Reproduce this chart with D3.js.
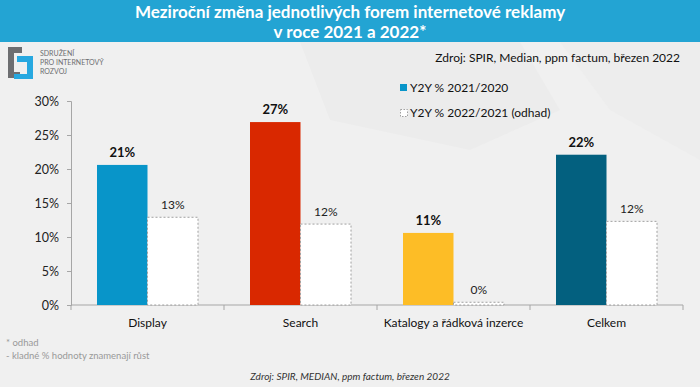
<!DOCTYPE html>
<html>
<head>
<meta charset="utf-8">
<script src="https://cdn.jsdelivr.net/npm/d3@7"></script>
<style>
  body { margin: 0; background: #f0f0f0; }
  svg { display: block; font-family: Lato, 'Open Sans', sans-serif; }
</style>
</head>
<body>
<script>
(function(){

// DATA

    const categories = ['Display', 'Search', 'Katalogy a řádková inzerce', 'Celkem'];
    const series1 = [20.6, 26.9, 10.6, 22.1];
    const series2 = [12.9, 11.9, 0.4, 12.3];
    const labels1 = ['21%', '27%', '11%', '22%'];
    const labels2 = ['13%', '12%', '0%', '12%'];
    const barColors = ['#0895c9', '#d92800', '#fdbd26', '#03607f'];
    const yTicks = [0, 5, 10, 15, 20, 25, 30];
    const legendLabels = ['Y2Y % 2021/2020', 'Y2Y % 2022/2021 (odhad)'];

    const width = 700,
        height = 387,
        plotLeft = 71,
        plotRight = 683,
        plotTop = 101,
        plotBottom = 305;

    const svg = d3
        .select('body')
        .append('svg')
        .attr('width', width)
        .attr('height', height);

// BACKGROUND

    svg.append('rect')
        .attr('width', width)
        .attr('height', height)
        .attr('fill', '#f0f0f0');

    // faint background shapes
    svg.append('path')
        .attr('d', 'M300,42 L520,42 L560,110 L470,150 L330,120 Z')
        .attr('fill', '#ececec');
    svg.append('path')
        .attr('d', 'M560,42 L700,42 L700,160 L610,110 Z')
        .attr('fill', '#ededed');

// TITLE BAR

    svg.append('rect')
        .attr('width', width)
        .attr('height', 42)
        .attr('fill', '#23a4d3');

    svg.append('text')
        .attr('x', width / 2)
        .attr('y', 18)
        .attr('text-anchor', 'middle')
        .attr('fill', '#fff')
        .attr('font-weight', 'bold')
        .attr('font-size', 17)
        .text('Meziroční změna jednotlivých forem internetové reklamy');

    svg.append('text')
        .attr('x', width / 2)
        .attr('y', 38)
        .attr('text-anchor', 'middle')
        .attr('fill', '#fff')
        .attr('font-weight', 'bold')
        .attr('font-size', 17)
        .text('v roce 2021 a 2022*');

// LOGO

    const logo = svg.append('g').attr('transform', 'translate(8,47)');
    // grey bracket
    logo.append('path')
        .attr('d', 'M0,0 H14 V6 H6 V25 H12 V31 H0 Z')
        .attr('fill', '#6d6e71');
    // blue bracket
    logo.append('path')
        .attr('d', 'M9,9 H25 V32 H6 V27 H19 V15 H9 Z')
        .attr('fill', '#27a8e0');
    ['SDRUŽENÍ', 'PRO INTERNETOVÝ', 'ROZVOJ'].forEach(function(t, i){
        logo.append('text')
            .attr('x', 32)
            .attr('y', 9 + i * 9)
            .attr('font-size', 7)
            .attr('fill', '#6d6e71')
            .text(t);
    });

    svg.append('text')
        .attr('x', 680)
        .attr('y', 62)
        .attr('text-anchor', 'end')
        .attr('font-size', 12)
        .attr('fill', '#111')
        .text('Zdroj: SPIR, Median, ppm factum, březen 2022');

// SCALES

    const x0 = d3.scaleBand()
        .domain(categories)
        .range([plotLeft, plotRight])
        .paddingInner(0)
        .paddingOuter(0);

    const x1 = d3.scaleBand()
        .domain([0, 1])
        .range([26, x0.bandwidth() - 26]);

    const y = d3.scaleLinear()
        .domain([0, 30])
        .range([plotBottom, plotTop]);

// AXES

    const yAxis = svg.append('g')
        .attr('transform', 'translate(' + plotLeft + ',0)')
        .call(d3.axisLeft(y)
            .tickValues(yTicks)
            .tickSize(4)
            .tickPadding(8)
            .tickFormat(function(d){ return d + '%'; }));
    yAxis.selectAll('line, path').attr('stroke', '#a6a6a6');
    yAxis.selectAll('text')
        .attr('font-size', 12.5)
        .attr('fill', '#222')
        .attr('font-family', 'Lato, sans-serif');

    const xAxis = svg.append('g')
        .attr('transform', 'translate(0,' + plotBottom + ')');
    xAxis.append('line')
        .attr('x1', plotLeft)
        .attr('x2', plotRight)
        .attr('stroke', '#a6a6a6');
    xAxis.selectAll('.tick')
        .data(categories.concat(['end']))
        .enter()
        .append('line')
        .attr('x1', function(d, i){ return plotLeft + i * x0.bandwidth(); })
        .attr('x2', function(d, i){ return plotLeft + i * x0.bandwidth(); })
        .attr('y1', 0)
        .attr('y2', 5)
        .attr('stroke', '#a6a6a6');
    xAxis.selectAll('.catLabel')
        .data(categories)
        .enter()
        .append('text')
        .attr('class', 'catLabel')
        .attr('x', function(d){ return x0(d) + x0.bandwidth() / 2; })
        .attr('y', 22)
        .attr('text-anchor', 'middle')
        .attr('font-size', 12)
        .attr('fill', '#111')
        .text(function(d){ return d; });

// BARS

    const groups = svg.selectAll('.group')
        .data(categories)
        .enter()
        .append('g')
        .attr('class', 'group')
        .attr('transform', function(d){ return 'translate(' + x0(d) + ',0)'; });

    groups.append('rect')
        .attr('x', x1(0))
        .attr('width', x1.bandwidth())
        .attr('y', function(d, i){ return y(series1[i]); })
        .attr('height', function(d, i){ return y(0) - y(series1[i]); })
        .attr('fill', function(d, i){ return barColors[i]; });

    groups.append('rect')
        .attr('x', x1(1))
        .attr('width', x1.bandwidth())
        .attr('y', function(d, i){ return y(series2[i]); })
        .attr('height', function(d, i){ return y(0) - y(series2[i]); })
        .attr('fill', '#fff')
        .attr('stroke', '#a0a0a0')
        .attr('stroke-dasharray', '2,2');

    groups.append('text')
        .attr('x', x1(0) + x1.bandwidth() / 2)
        .attr('y', function(d, i){ return y(series1[i]) - 8; })
        .attr('text-anchor', 'middle')
        .attr('font-size', 13)
        .attr('font-weight', 'bold')
        .attr('fill', '#111')
        .text(function(d, i){ return labels1[i]; });

    groups.append('text')
        .attr('x', x1(1) + x1.bandwidth() / 2)
        .attr('y', function(d, i){ return y(series2[i]) - 8; })
        .attr('text-anchor', 'middle')
        .attr('font-size', 12)
        .attr('fill', '#222')
        .text(function(d, i){ return labels2[i]; });

// LEGEND

    const legend = svg.append('g').attr('transform', 'translate(400,0)');
    legend.append('rect')
        .attr('x', 0).attr('y', 84)
        .attr('width', 7).attr('height', 7)
        .attr('fill', barColors[0]);
    legend.append('rect')
        .attr('x', 0.5).attr('y', 109.5)
        .attr('width', 7).attr('height', 7)
        .attr('fill', '#fff')
        .attr('stroke', '#a0a0a0')
        .attr('stroke-dasharray', '1.5,1.5');
    legendLabels.forEach(function(t, i){
        legend.append('text')
            .attr('x', 10)
            .attr('y', 92 + i * 25)
            .attr('font-size', 12)
            .attr('fill', '#111')
            .text(t);
    });

// FOOTNOTES

    svg.append('text')
        .attr('x', 6).attr('y', 346)
        .attr('font-size', 9.5)
        .attr('fill', '#999')
        .text('* odhad');
    svg.append('text')
        .attr('x', 6).attr('y', 359)
        .attr('font-size', 9.5)
        .attr('fill', '#999')
        .text('- kladné % hodnoty znamenají růst');
    svg.append('text')
        .attr('x', 350).attr('y', 380)
        .attr('text-anchor', 'middle')
        .attr('font-size', 10)
        .attr('font-style', 'italic')
        .attr('fill', '#333')
        .text('Zdroj: SPIR, MEDIAN, ppm factum, březen 2022');

})();
</script>
</body>
</html>
